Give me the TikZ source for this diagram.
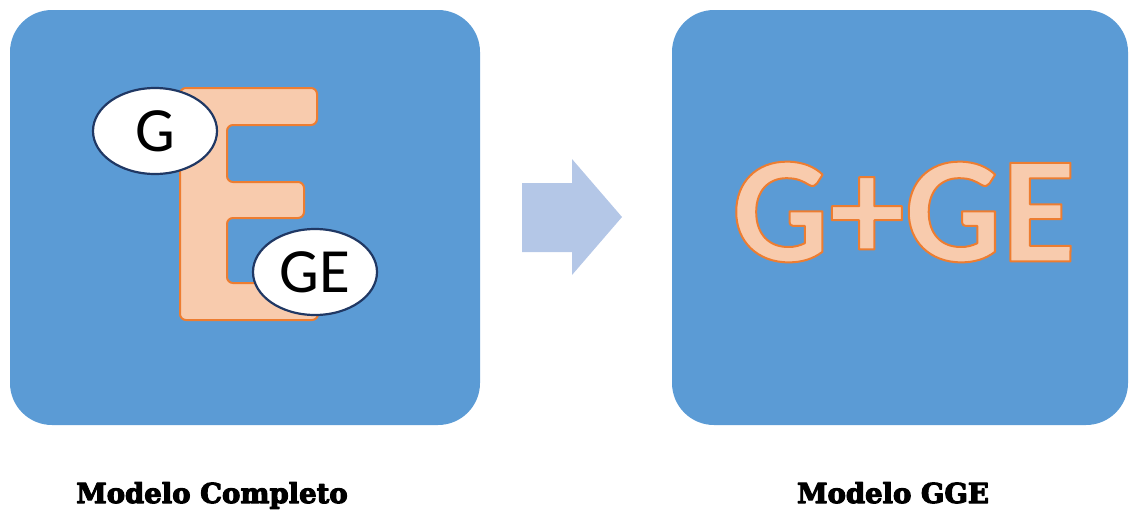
\documentclass[tikz,border=0pt]{standalone}
\usepackage{fontspec}
\setmainfont{Carlito}
\newfontfamily\labelfont{DejaVu Serif}
\definecolor{boxblue}{HTML}{5B9BD5}
\definecolor{arrowblue}{HTML}{B4C7E7}
\definecolor{peach}{HTML}{F8CBAD}
\definecolor{eorange}{HTML}{ED7D31}
\definecolor{navy}{HTML}{203864}
\newcommand{\outlinedtext}[1]{{\color{peach}\special{pdf:literal direct 2 Tr 2 w 1 j 0.929 0.490 0.192 RG}#1\special{pdf:literal direct 0 Tr}}}
\newcommand{\heavytext}[1]{{\special{pdf:literal direct 2 Tr 1.1 w 1 j 0 0 0 RG}#1\special{pdf:literal direct 0 Tr}}}
\tikzset{
  panel/.style={fill=boxblue, draw=none, rounded corners=42pt},
  oval/.style={ellipse, draw=navy, line width=2.2pt, fill=white, minimum width=124pt, minimum height=86pt, inner sep=0pt, font=\fontsize{63}{63}\selectfont},
  caption/.style={font=\labelfont\bfseries\fontsize{27.5}{27.5}\selectfont, anchor=base},
}
\usetikzlibrary{shapes.geometric}
\begin{document}
\begin{tikzpicture}[x=1pt,y=-1pt]
\useasboundingbox (0,0) rectangle (1132,509);
% panels
\path[panel] (10,10) rectangle (480,425);
\path[panel] (672,10) rectangle (1128,425);
% E letter
\draw[fill=peach, draw=eorange, line width=2pt, rounded corners=6pt]
  (180,88) -- (317,88) -- (317,125) -- (227,125) -- (227,182) -- (304,182) -- (304,218) -- (227,218) -- (227,283) -- (318,283) -- (318,320) -- (180,320) -- cycle;
% ellipses
\node[oval] (g) at (155,131) {G};
\node[oval] (ge) at (315,272) {GE};
% arrow
\fill[arrowblue] (522,183) -- (572,183) -- (572,159) -- (622,217) -- (572,275) -- (572,252) -- (522,252) -- cycle;
% G+GE
\node[font=\bfseries\fontsize{152}{152}\selectfont, inner sep=0pt] (gge) at (904,212) {\outlinedtext{G+GE}};
% captions
\node[caption] (c1) at (212,503) {\heavytext{Modelo Completo}};
\node[caption] (c2) at (893,503) {\heavytext{Modelo GGE}};
\end{tikzpicture}
\end{document}
